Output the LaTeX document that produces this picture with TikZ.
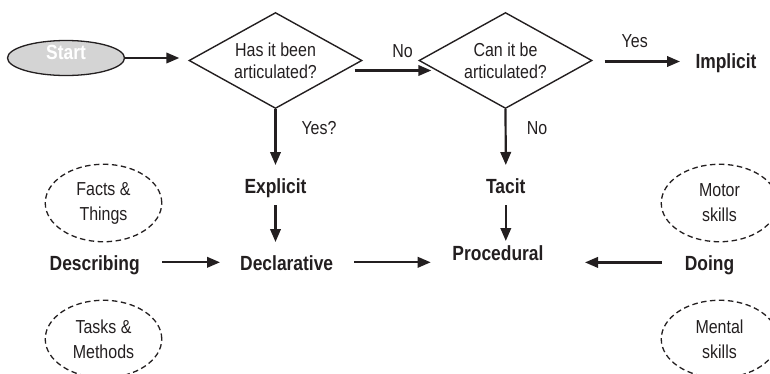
\documentclass[tikz,border=0pt]{standalone}
\usepackage{fontspec}
\setmainfont[FakeStretch=0.85]{Liberation Sans}
\usetikzlibrary{shapes.geometric,arrows.meta,calc}
\definecolor{ink}{RGB}{35,31,32}
\definecolor{startfill}{RGB}{212,212,212}
\tikzset{
  boldlbl/.style={inner sep=0pt, text height=14.6pt, text depth=0pt,
    font=\fontsize{20.5}{24}\selectfont\bfseries, text=ink},
  reglbl/.style={inner sep=0pt, text height=13.4pt, text depth=0pt,
    font=\fontsize{18.8}{22}\selectfont, text=ink},
  decision/.style={diamond, draw=ink, line width=1.4pt, minimum width=173pt,
    minimum height=96pt, shape aspect=1.8, inner sep=0pt, align=center,
    font=\fontsize{18.8}{22}\selectfont, text=ink},
  cloud/.style={ellipse, draw=ink, dash pattern=on 5.5pt off 3.5pt, line width=1.3pt,
    minimum width=116.5pt, minimum height=77.5pt, inner sep=0pt, align=center,
    font=\fontsize{18.8}{25}\selectfont, text=ink},
  startnode/.style={ellipse, draw=ink, fill=startfill, line width=1.3pt,
    minimum width=117pt, minimum height=35pt, inner sep=0pt},
  arr/.style={draw=ink, line width=2.2pt, -{Triangle[length=13pt,width=10.5pt]}},
}
\begin{document}
\begin{tikzpicture}[x=1pt,y=-1pt]
\useasboundingbox (0,0) rectangle (770,373);
\clip (0,0) rectangle (770,373);

% nodes
\node[startnode, label={[boldlbl, text=white, yshift=6pt]center:Start}] (start) at (66,58) {};
\node[decision] (d1) at (275.5,60.5) {Has it been\\articulated?};
\node[decision] (d2) at (505.5,60.5) {Can it be\\articulated?};
\node[boldlbl] (implicit) at (726,61.5) {Implicit};

\node[reglbl] (lno) at (402.5,50.3) {No};
\node[reglbl] (lyes) at (634.7,40.5) {Yes};
\node[reglbl] (lyesq) at (319,128) {Yes?};
\node[reglbl] (lno2) at (537,128) {No};

\node[boldlbl] (explicit) at (275.5,186) {Explicit};
\node[boldlbl] (tacit) at (505.8,186) {Tacit};
\node[boldlbl] (describing) at (94.7,262.7) {Describing};
\node[boldlbl] (declarative) at (286.7,262.7) {Declarative};
\node[boldlbl] (procedural) at (498,253.5) {Procedural};
\node[boldlbl] (doing) at (709.5,262.8) {Doing};

\node[cloud] (facts) at (103.5,203) {Facts \&\\Things};
\node[cloud] (tasks) at (103.5,339) {Tasks \&\\Methods};
\node[cloud] (motor) at (719.5,203) {Motor\\skills};
\node[cloud] (mental) at (719.5,339) {Mental\\skills};

% connectors
\draw[arr] (start.east) -- ($(start.east -| d1.west)+(-9,0)$);
\draw[arr] ($(d1.east)+(-8,10)$) -- ($(d2.west)+(13,10)$);
\draw[arr] ($(d2.east)+(12,1)$) -- ($(implicit.center)+(-46,0)$);
\draw[arr] (d1.south) -- ($(explicit.center)+(0,-21)$);
\draw[arr] (d2.south) -- ($(tacit.center)+(0,-21)$);
\draw[arr] ($(explicit.center)+(0,19)$) -- ($(explicit.center |- declarative.center)+(0,-20.7)$);
\draw[arr] ($(tacit.center)+(0,19)$) -- ($(tacit.center |- procedural.center)+(0,-12.5)$);
\draw[arr] ($(describing.center)+(67.3,-0.4)$) -- ($(declarative.center)+(-66.7,-0.4)$);
\draw[arr] ($(declarative.center)+(67.3,-0.4)$) -- ($(declarative.center -| procedural.center)+(-67.3,-0.4)$);
\draw[arr] ($(doing.center)+(-47.8,-0.4)$) -- ($(doing.center -| procedural.center)+(87,-0.4)$);
\end{tikzpicture}
\end{document}
